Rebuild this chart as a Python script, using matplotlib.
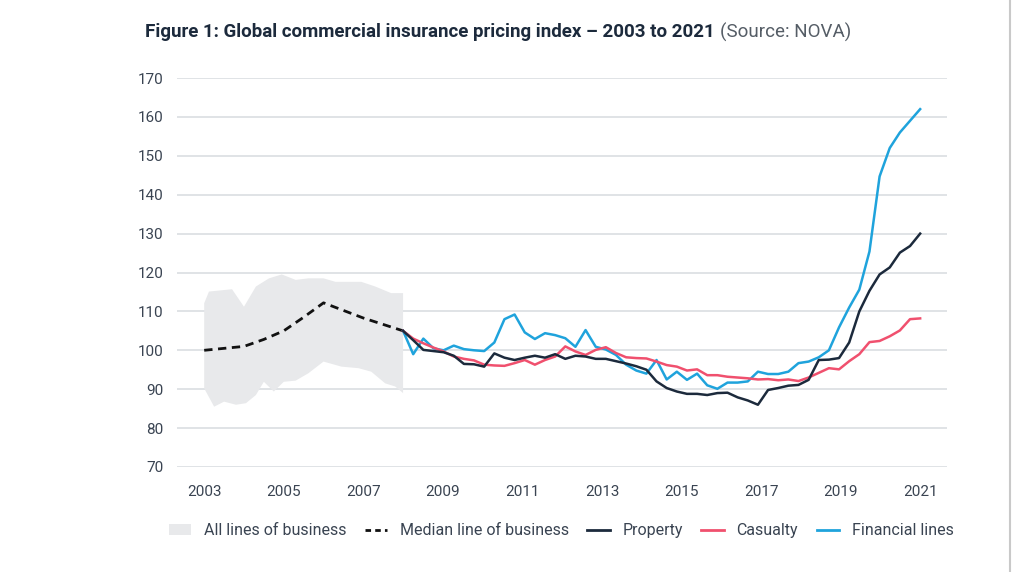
import numpy as np
import matplotlib
matplotlib.use("Agg")
import matplotlib.pyplot as plt
from matplotlib.lines import Line2D
from matplotlib.patches import Patch

plt.rcParams['font.family'] = ['Roboto', 'DejaVu Sans']

# band of all lines of business (2003-2008), upper and lower edge
band_up_x = [2003.0, 2003.12, 2003.7, 2004.0, 2004.3, 2004.63, 2004.95, 2005.3,
             2005.62, 2006.0, 2006.3, 2006.95, 2007.3, 2007.7, 2008.0]
band_up_y = [112.1, 115.1, 115.7, 111.2, 116.4, 118.5, 119.5, 118.1,
             118.5, 118.5, 117.6, 117.6, 116.4, 114.7, 114.7]
band_lo_x = [2003.0, 2003.25, 2003.5, 2003.8, 2004.05, 2004.3, 2004.5, 2004.75,
             2005.0, 2005.3, 2005.62, 2006.0, 2006.45, 2006.88, 2007.2, 2007.55,
             2007.8, 2008.0]
band_lo_y = [90.2, 85.5, 86.8, 86.0, 86.4, 88.5, 91.9, 89.4,
             91.9, 92.2, 94.1, 97.1, 95.8, 95.4, 94.5, 91.5,
             90.7, 89.0]

median_x = [2003, 2004, 2004.5, 2005, 2005.5, 2006, 2007, 2008]
median_y = [100, 101, 102.8, 105, 108.5, 112.2, 108.3, 105]

# quarterly series 2008-2021
property_idx = [105, 102.6, 100.1, 99.8, 99.5, 98.6, 96.5, 96.4, 95.8, 99.2,
                98.1, 97.5, 98.1, 98.6, 98.1, 99.0, 97.8, 98.6, 98.4, 97.8,
                97.8, 97.2, 96.6, 95.9, 95.0, 92.0, 90.3, 89.4, 88.8, 88.8,
                88.5, 89.0, 89.1, 87.9, 87.1, 86.0, 89.8, 90.3, 90.9, 91.1,
                92.4, 97.5, 97.6, 98.0, 102.0, 110.0, 115.3, 119.5, 121.3, 125.1,
                126.8, 130.0]
casualty_idx = [105, 103, 101.8, 100.7, 99.7, 98.4, 97.8, 97.4, 96.3, 96.1,
                96.0, 96.7, 97.5, 96.3, 97.5, 98.4, 101.0, 99.7, 98.8, 100.1,
                100.8, 99.3, 98.2, 98.0, 97.9, 97.1, 96.2, 95.8, 94.8, 95.1,
                93.6, 93.6, 93.2, 93.0, 92.8, 92.5, 92.6, 92.3, 92.5, 92.1,
                93.0, 94.2, 95.4, 95.1, 97.2, 99.0, 102.1, 102.4, 103.6, 105.1,
                108.0, 108.2]
financial_idx = [105, 99, 103, 100.5, 100, 101.2, 100.3, 100, 99.8, 102,
                 108, 109.2, 104.6, 102.9, 104.4, 103.9, 103.1, 100.9, 105.2, 100.9,
                 100.2, 98.8, 96.3, 94.8, 94.0, 97.5, 92.5, 94.5, 92.4, 94.0,
                 91.0, 90.1, 91.7, 91.7, 92.0, 94.5, 93.9, 93.9, 94.5, 96.7,
                 97.1, 98.2, 100.0, 105.9, 111.0, 115.6, 125.4, 144.7, 152.0, 156.0,
                 159.0, 162.0]
quarters = np.linspace(2008, 2021, len(property_idx))

year_ticks = list(range(2003, 2022, 2))
value_ticks = list(range(70, 171, 10))

c_band = '#e8e9eb'
c_prop = '#1c2a3c'
c_cas = '#f0506e'
c_fin = '#1fa3dc'
c_text = '#3a4452'

fig = plt.figure(figsize=(10.24, 5.72), dpi=100)
ax = fig.add_axes([0.173, 0.1836, 0.752, 0.68])

ax.fill(np.concatenate([band_up_x, band_lo_x[::-1]]),
        np.concatenate([band_up_y, band_lo_y[::-1]]),
        color=c_band, lw=0, zorder=1)
ax.plot(median_x, median_y, color='#111111', lw=2, ls=(0, (3, 2)), zorder=3)
ax.plot(quarters, financial_idx, color=c_fin, lw=1.8, zorder=3)
ax.plot(quarters, casualty_idx, color=c_cas, lw=1.8, zorder=4)
ax.plot(quarters, property_idx, color=c_prop, lw=1.8, zorder=5)

ax.set_xlim(2002.32, 2021.68)
ax.set_ylim(70, 170)
ax.set_xticks(year_ticks)
ax.set_yticks(value_ticks)
ax.grid(axis='y', color='#dde0e4', lw=1.3, zorder=0)
ax.set_axisbelow(True)
for s in ax.spines.values():
    s.set_visible(False)
ax.tick_params(length=0, labelsize=11, labelcolor=c_text)
ax.tick_params(axis='y', pad=10)
ax.tick_params(axis='x', pad=13)

# title in two parts
t1 = fig.text(145 / 1024, 1 - 32 / 572,
              'Figure 1: Global commercial insurance pricing index \u2013 2003 to 2021',
              fontsize=13.5, fontweight='bold', color='#1c2a3c', va='center', ha='left')
fig.canvas.draw()
bb = t1.get_window_extent(fig.canvas.get_renderer())
fig.text(bb.x1 / 1024 + 5 / 1024, 1 - 32 / 572, '(Source: NOVA)',
         fontsize=13.5, color='#555d66', va='center', ha='left')

handles = [Patch(facecolor=c_band, edgecolor='none'),
           Line2D([], [], color='#111111', lw=2, ls=(0, (2, 1.5))),
           Line2D([], [], color=c_prop, lw=2),
           Line2D([], [], color=c_cas, lw=2),
           Line2D([], [], color=c_fin, lw=2)]
labels = ['All lines of business', 'Median line of business', 'Property',
          'Casualty', 'Financial lines']
fig.legend(handles, labels, loc='center', bbox_to_anchor=(0.548, 0.072), ncol=5,
           frameon=False, fontsize=11.5, labelcolor=c_text, handlelength=1.4,
           handletextpad=0.8, columnspacing=1.15)

# screenshot border on the right
fig.add_artist(Line2D([1010 / 1024, 1010 / 1024], [0, 1], color='#c9c9c9', lw=1.5))

fig.savefig('out.png', dpi=100)
